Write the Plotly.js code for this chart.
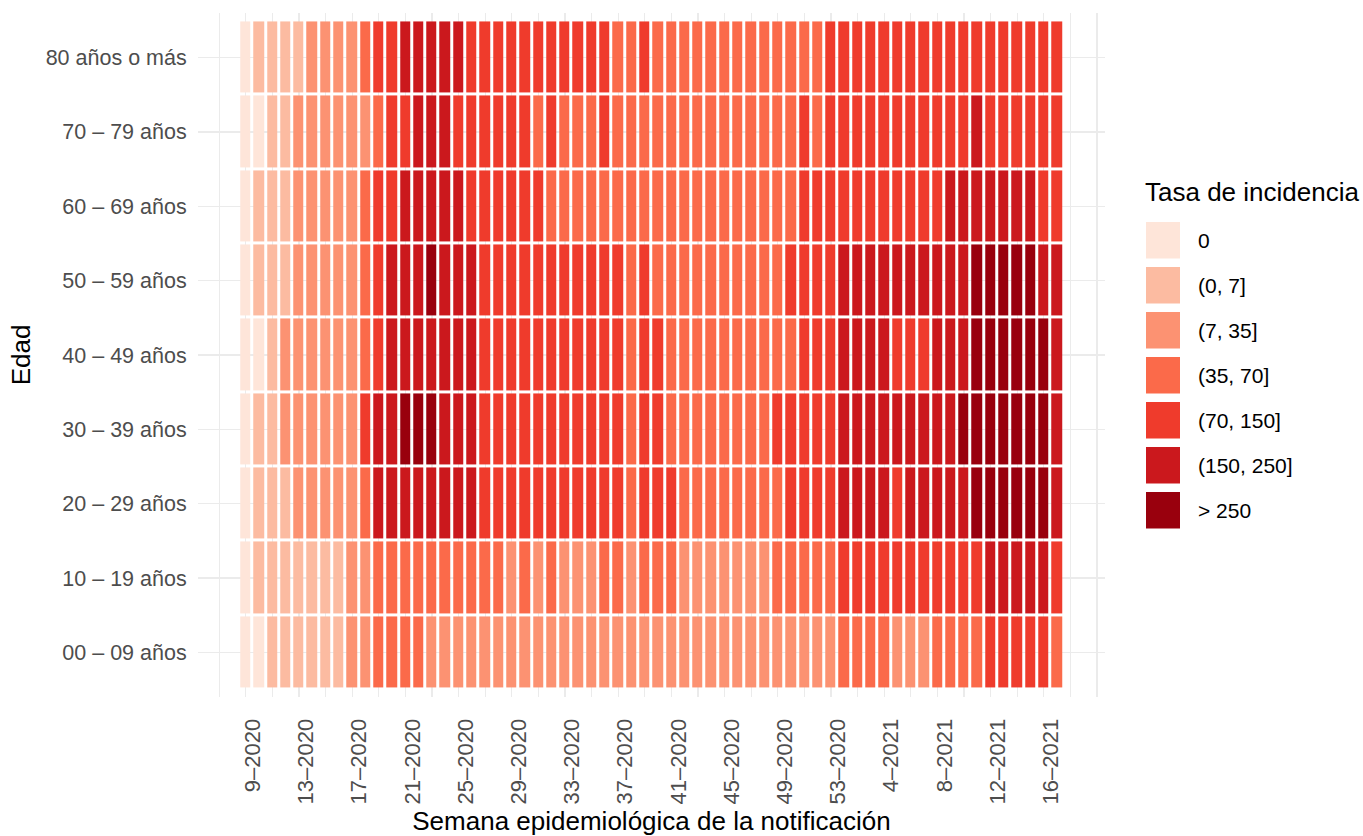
<!DOCTYPE html>
<html><head><meta charset="utf-8">
<script src="https://cdn.plot.ly/plotly-3.0.1.min.js"></script>
<style>html,body{margin:0;padding:0;background:#fff}#chart{width:1363px;height:836px}</style>
</head><body><div id="chart"></div>
<script>
// ---------- DATA ----------
const weeks = ["9–2020","10–2020","11–2020","12–2020","13–2020","14–2020","15–2020","16–2020","17–2020","18–2020",
"19–2020","20–2020","21–2020","22–2020","23–2020","24–2020","25–2020","26–2020","27–2020","28–2020",
"29–2020","30–2020","31–2020","32–2020","33–2020","34–2020","35–2020","36–2020","37–2020","38–2020",
"39–2020","40–2020","41–2020","42–2020","43–2020","44–2020","45–2020","46–2020","47–2020","48–2020",
"49–2020","50–2020","51–2020","52–2020","53–2020","1–2021","2–2021","3–2021","4–2021","5–2021",
"6–2021","7–2021","8–2021","9–2021","10–2021","11–2021","12–2021","13–2021","14–2021","15–2021",
"16–2021","17–2021"];

const ageGroups = ["00 – 09 años","10 – 19 años","20 – 29 años","30 – 39 años","40 – 49 años",
"50 – 59 años","60 – 69 años","70 – 79 años","80 años o más"];

const binLabels = ["0","(0, 7]","(7, 35]","(35, 70]","(70, 150]","(150, 250]","> 250"];
const binColors = ["#FEE5D9","#FCBBA1","#FC9272","#FB6A4A","#EF3B2C","#CB181D","#99000D"];

// incidence-rate class (index into binLabels) per week, one array per age group
const age00_09 = [0,0,1,1,1,1,1,1,2,2, 3,3,3,3,2,2,2,2,2,2, 2,2,2,2,2,2,2,2,2,2, 2,2,2,2,2,2,2,2,2,2, 2,2,2,2,2,3,3,3,3,2, 2,2,3,3,3,3,4,4,4,4, 4,3];
const age10_19 = [0,1,1,1,1,1,1,1,2,2, 3,3,3,3,3,3,3,3,3,3, 2,3,2,3,2,2,2,3,3,2, 3,3,3,2,2,2,2,2,2,2, 3,3,3,3,3,4,4,4,4,4, 4,4,4,4,4,4,5,5,5,5, 5,4];
const age20_29 = [0,1,1,1,2,2,2,2,2,3, 5,5,5,5,5,5,5,5,4,4, 4,4,4,4,4,4,4,4,4,3, 4,4,4,3,3,3,3,3,3,3, 3,4,4,4,4,5,5,5,5,4, 5,5,5,5,5,6,6,6,6,6, 6,5];
const age30_39 = [0,1,1,2,2,2,2,2,2,4, 5,5,6,6,6,5,5,5,4,4, 4,4,4,4,4,4,4,4,4,3, 4,4,3,3,3,3,3,3,3,3, 4,4,4,4,4,5,5,5,5,5, 5,5,5,5,6,6,6,6,6,6, 6,5];
const age40_49 = [0,0,1,2,2,2,2,2,2,3, 4,5,5,5,5,5,5,5,4,4, 4,4,4,4,4,4,4,4,4,3, 4,4,3,3,3,3,3,3,3,3, 3,3,4,4,4,5,5,5,5,4, 4,4,5,5,5,6,6,6,6,6, 6,5];
const age50_59 = [0,1,1,1,2,2,2,2,2,3, 4,5,5,5,6,5,5,5,4,4, 4,4,4,4,4,4,4,4,4,3, 4,3,3,3,3,3,3,3,3,3, 3,4,4,4,4,5,5,5,5,5, 5,5,5,5,5,6,6,6,6,6, 5,5];
const age60_69 = [0,1,1,1,2,2,2,2,2,3, 4,4,5,5,5,5,5,4,4,4, 4,4,4,3,3,3,3,3,3,3, 3,3,3,3,3,3,3,3,3,3, 3,3,4,4,4,4,4,4,4,4, 4,4,4,5,5,5,5,5,5,5, 4,4];
const age70_79 = [0,0,1,1,2,2,2,2,2,2, 3,4,4,5,5,5,4,4,4,4, 4,4,3,4,3,3,3,4,3,3, 3,3,3,3,3,3,3,3,3,3, 3,3,4,3,4,4,4,4,4,4, 4,4,4,4,4,5,4,4,4,4, 4,4];
const age80plus = [0,1,1,1,1,2,2,2,2,3, 4,4,5,5,5,5,5,4,4,4, 4,4,4,4,4,4,4,4,3,3, 4,3,3,3,3,3,3,3,3,3, 3,3,3,3,4,4,4,4,4,4, 4,4,4,4,4,4,4,4,4,4, 4,4];

// ---------- LAYOUT HELPERS ----------
const W = 1363, H = 836;
const M = {l: 198, r: 258, t: 13, b: 139};
const pw = W - M.l - M.r, ph = H - M.t - M.b;
const px2x = px => (px - M.l) / pw;
const py2y = py => 1 - (py - M.t) / ph;

const z = [age00_09, age10_19, age20_29, age30_39, age40_49, age50_59, age60_69, age70_79, age80plus];
const xIdx = weeks.map((w, i) => i);

const colorscale = [];
binColors.forEach((c, i) => { colorscale.push([i / binColors.length, c]); colorscale.push([(i + 1) / binColors.length, c]); });

const tickvals = [-2], ticktext = [""];
xIdx.forEach(i => { if (i % 2 === 0) { tickvals.push(i); ticktext.push(i % 4 === 0 ? weeks[i] : ""); } });
tickvals.push(xIdx.length, xIdx.length + 2); ticktext.push("", "");

const FONT = '"Liberation Sans", Arial, Helvetica, sans-serif';

const trace = {
  type: 'heatmap',
  x: xIdx,
  y: ageGroups,
  z: z,
  zmin: -0.5, zmax: binColors.length - 0.5,
  colorscale: colorscale,
  showscale: false,
  xgap: 3, ygap: 3,
  hoverinfo: 'skip'
};

const shapes = [], annotations = [];
annotations.push({
  xref: 'paper', yref: 'paper', x: px2x(1143), y: py2y(192), xanchor: 'left', yanchor: 'middle',
  text: 'Tasa de incidencia', showarrow: false, font: {family: FONT, size: 26, color: '#000'}
});
binLabels.forEach((lab, i) => {
  const top = 222 + 45 * i;
  shapes.push({type: 'rect', xref: 'paper', yref: 'paper',
    x0: px2x(1146), x1: px2x(1180), y0: py2y(top + 36.5), y1: py2y(top),
    fillcolor: binColors[i], line: {width: 0}});
  annotations.push({xref: 'paper', yref: 'paper', x: px2x(1196), y: py2y(top + 18), xanchor: 'left', yanchor: 'middle',
    text: lab, showarrow: false, font: {family: FONT, size: 21, color: '#000'}});
});

const layout = {
  width: W, height: H,
  margin: M,
  paper_bgcolor: '#fff', plot_bgcolor: '#fff',
  font: {family: FONT},
  showlegend: false,
  xaxis: {
    type: 'linear', range: [-3.6, 64.6], automargin: false,
    tickvals: tickvals, ticktext: ticktext, tickangle: -90,
    ticks: 'outside', ticklen: 12, tickcolor: 'rgba(0,0,0,0)',
    ticklabelshift: 7,
    tickfont: {family: FONT, size: 22, color: '#4D4D4D'},
    showgrid: true, gridcolor: '#EBEBEB', gridwidth: 1.2,
    zeroline: false, showline: false, fixedrange: true,
    title: {text: 'Semana epidemiológica de la notificación', standoff: 10, font: {family: FONT, size: 26, color: '#000'}}
  },
  yaxis: {
    type: 'category', categoryarray: ageGroups, range: [-0.6, 8.6], automargin: false,
    ticks: 'outside', ticklen: 6, tickcolor: 'rgba(0,0,0,0)',
    tickfont: {family: FONT, size: 21.5, color: '#4D4D4D'},
    showgrid: true, gridcolor: '#EBEBEB', gridwidth: 1.2,
    zeroline: false, showline: false, fixedrange: true,
    title: {text: 'Edad', standoff: 7, font: {family: FONT, size: 26, color: '#000'}}
  },
  shapes: shapes,
  annotations: annotations
};

Plotly.newPlot('chart', [trace], layout, {displayModeBar: false, staticPlot: true});
</script>
</body></html>
